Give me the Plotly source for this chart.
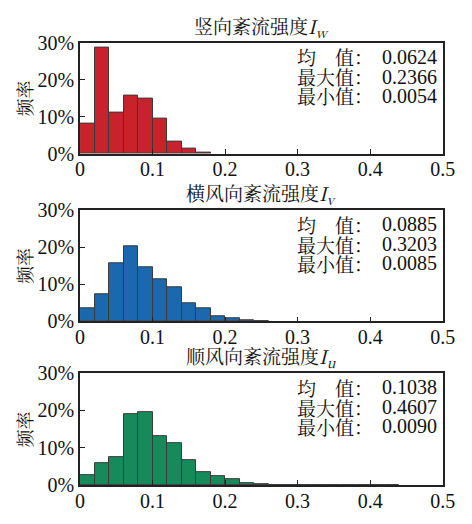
import plotly.graph_objects as go

# Histogram bins (width 0.02) and relative frequencies for each turbulence component
bin_width = 0.02
bin_left = [round(i * bin_width, 2) for i in range(23)]

freq_w = [0.081, 0.287, 0.111, 0.158, 0.149, 0.094, 0.034, 0.013, 0.004]
freq_v = [0.036, 0.073, 0.158, 0.202, 0.146, 0.113, 0.091, 0.048, 0.035, 0.013,
          0.008, 0.003, 0.0015]
freq_u = [0.027, 0.058, 0.075, 0.191, 0.196, 0.131, 0.113, 0.068, 0.036, 0.025,
          0.017, 0.006, 0.003, 0.0015, 0.0015, 0.001, 0.001, 0.0, 0.0008,
          0.0, 0.0, 0.0008]

titles = ["竖向紊流强度<i>I</i><sub><i>w</i></sub>",
          "横风向紊流强度<i>I</i><sub><i>v</i></sub>",
          "顺风向紊流强度<i>I</i><sub><i>u</i></sub>"]
stat_labels = ["均\u3000值：", "最大值：", "最小值："]
stats = [["0.0624", "0.2366", "0.0054"],
         ["0.0885", "0.3203", "0.0085"],
         ["0.1038", "0.4607", "0.0090"]]
colors = ["#C8232C", "#1B68AE", "#178A5B"]
series = [freq_w, freq_v, freq_u]

x_ticks = [0, 0.1, 0.2, 0.3, 0.4, 0.5]
x_tick_text = ["0", "0.1", "0.2", "0.3", "0.4", "0.5"]
y_ticks = [0, 0.1, 0.2, 0.3]
y_tick_text = ["0%", "10%", "20%", "30%"]

W, H = 472, 524
x_dom = [78 / W, 455 / W]
# pixel rows (top, bottom) of each plot area
rows_px = [(33, 149), (208, 324), (378, 495)]

FONT = "Liberation Serif, Times New Roman, serif"
CJK = "Noto Serif CJK SC, Noto Sans CJK SC, serif"
STAT_BASE = 15  # sets the line pitch of the stats block


def stat_block(lines, size):
    return "<br>".join(f'<span style="font-size:{size}px">{s}</span>' for s in lines)


fig = go.Figure()
annotations = []
layout_axes = {}

for i, (freq, color) in enumerate(zip(series, colors)):
    n = i + 1
    xa = "x" if n == 1 else f"x{n}"
    ya = "y" if n == 1 else f"y{n}"
    centers = [bin_left[k] + bin_width / 2 for k in range(len(freq))]
    fig.add_trace(go.Bar(
        x=centers, y=freq, width=bin_width,
        marker=dict(color=color, line=dict(color="#3a3a3a", width=1)),
        xaxis=xa, yaxis=ya, showlegend=False,
    ))
    top, bot = rows_px[i]
    y_dom = [1 - bot / H, 1 - top / H]
    suffix = "" if n == 1 else str(n)
    layout_axes["xaxis" + suffix] = dict(
        domain=x_dom, anchor=ya, range=[0, 0.5],
        tickvals=x_ticks, ticktext=x_tick_text,
        ticks="inside", ticklen=5, tickcolor="#222", tickwidth=1,
        showline=True, linecolor="#222", linewidth=1.5, mirror=True,
        showgrid=False, zeroline=False, ticklabelstandoff=-3,
        tickfont=dict(family=FONT, size=20, color="#111"),
    )
    layout_axes["yaxis" + suffix] = dict(
        domain=y_dom, anchor=xa, range=[0, 0.3],
        tickvals=y_ticks, ticktext=y_tick_text,
        ticks="inside", ticklen=5, tickcolor="#222", tickwidth=1,
        showline=True, linecolor="#222", linewidth=1.5, mirror=True,
        showgrid=False, zeroline=False,
        tickfont=dict(family=FONT, size=20, color="#111"),
    )
    # subplot title
    annotations.append(dict(
        text=titles[i], x=(x_dom[0] + x_dom[1]) / 2, y=1 - top / H,
        xref="paper", yref="paper", xanchor="center", yanchor="bottom",
        showarrow=False, borderpad=0,
        font=dict(family=CJK, size=19, color="#111"),
    ))
    # y-axis label
    annotations.append(dict(
        text="频率", x=20 / W, y=1 - (top + bot) / 2 / H,
        xref="paper", yref="paper", xanchor="center", yanchor="middle",
        textangle=-90, showarrow=False,
        font=dict(family=CJK, size=18, color="#111"),
    ))
    # statistics block: labels column and values column
    yc = 1 - (top + 35) / H
    annotations.append(dict(
        text=stat_block(stat_labels, 19), x=303 / W, y=yc,
        xref="paper", yref="paper", xanchor="left", yanchor="middle",
        align="left", showarrow=False, borderpad=0,
        font=dict(family=CJK, size=STAT_BASE, color="#111"),
    ))
    annotations.append(dict(
        text=stat_block(stats[i], 20), x=450 / W, y=yc,
        xref="paper", yref="paper", xanchor="right", yanchor="middle",
        align="right", showarrow=False, borderpad=0,
        font=dict(family=FONT, size=STAT_BASE, color="#111"),
    ))

fig.update_layout(
    width=W, height=H, margin=dict(l=0, r=0, t=0, b=0),
    paper_bgcolor="white", plot_bgcolor="white",
    bargap=0, annotations=annotations, **layout_axes,
)

fig.write_html("out.html")
